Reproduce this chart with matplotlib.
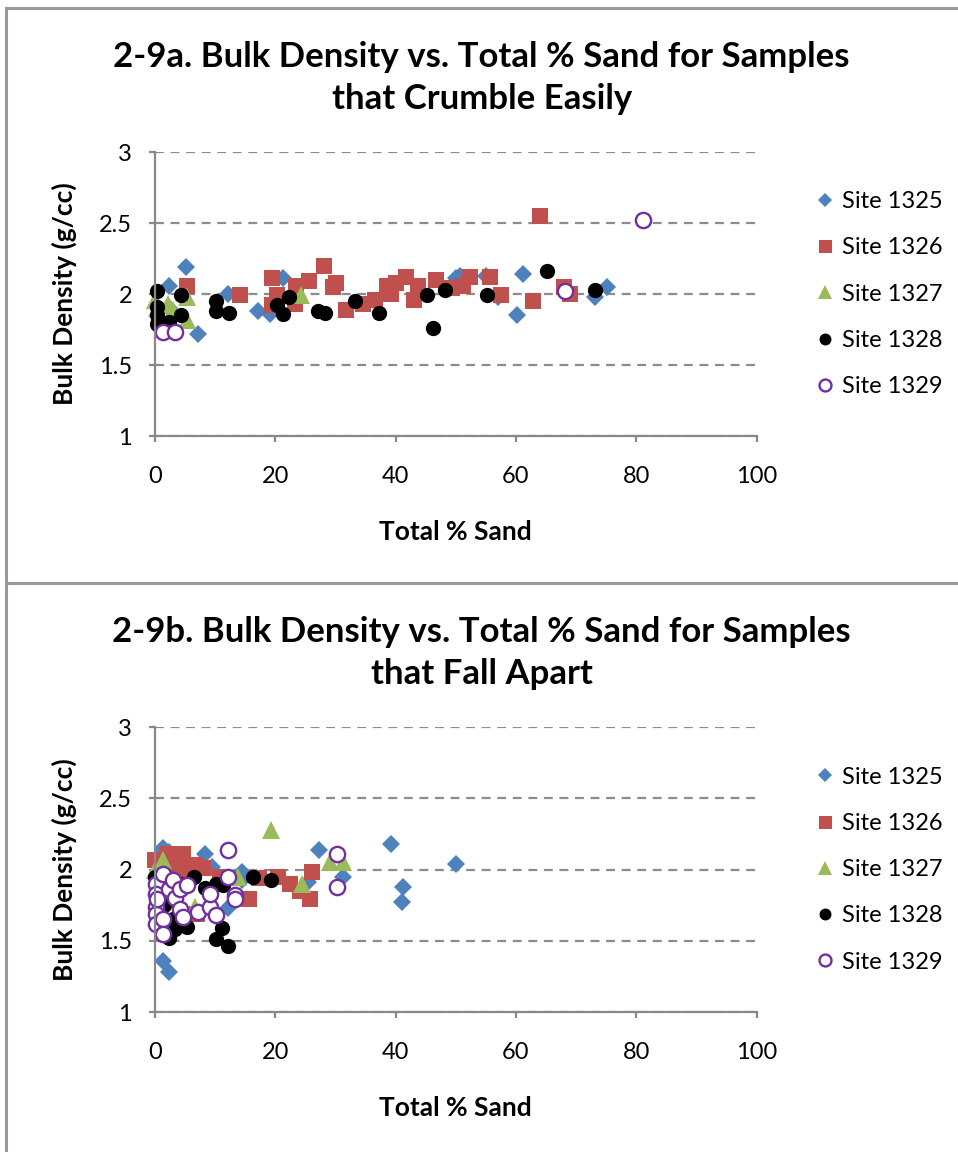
import matplotlib
matplotlib.use("Agg")
import matplotlib.pyplot as plt
from matplotlib.lines import Line2D

plt.rcParams['font.family'] = ['Lato', 'DejaVu Sans']

# 2-9a: samples that crumble easily
a_1325_x = [2.3, 2.4, 5.2, 7.2, 12.2, 17.2, 19.1, 21.3, 23.5, 50.1, 50.7, 55.1, 57.0, 60.2, 61.1, 73.1, 75.2]
a_1325_y = [2.06, 1.90, 2.19, 1.72, 2.00, 1.88, 1.86, 2.11, 1.96, 2.11, 2.13, 2.13, 1.98, 1.85, 2.14, 1.98, 2.05]
a_1326_x = [5.3, 14.1, 19.4, 19.4, 20.2, 23.3, 23.5, 25.6, 28.1, 29.6, 30.1, 31.8, 34.6, 36.5, 38.5,
            39.3, 40.1, 41.8, 43.0, 43.7, 46.7, 49.3, 51.2, 52.4, 55.7, 57.5, 62.8, 64.0, 68.0, 68.9]
a_1326_y = [2.06, 1.99, 2.11, 1.92, 1.99, 1.93, 2.06, 2.09, 2.20, 2.05, 2.08, 1.89, 1.93, 1.96, 2.06,
            2.00, 2.08, 2.12, 1.96, 2.06, 2.10, 2.04, 2.06, 2.12, 2.12, 1.99, 1.95, 2.55, 2.05, 2.00]
a_1327_x = [0.0, 0.3, 2.2, 3.0, 5.3, 5.3, 24.3]
a_1327_y = [1.96, 1.90, 1.93, 1.89, 1.98, 1.82, 1.99]
a_1328_x = [0.3, 0.3, 0.3, 0.3, 2.3, 4.3, 4.3, 10.2, 10.2, 12.3, 20.2, 21.2, 22.3, 27.1, 28.2,
            33.2, 37.2, 45.2, 46.2, 48.2, 55.2, 65.2, 73.1]
a_1328_y = [2.02, 1.91, 1.85, 1.79, 1.80, 1.99, 1.85, 1.95, 1.88, 1.87, 1.92, 1.86, 1.98, 1.88, 1.87,
            1.95, 1.87, 1.99, 1.76, 2.03, 1.99, 2.16, 2.03]
a_1329_x = [1.3, 3.3, 68.1, 81.1]
a_1329_y = [1.73, 1.73, 2.02, 2.52]

# 2-9b: samples that fall apart
b_1325_x = [0.5, 1.3, 2.3, 1.3, 2.3, 8.3, 9.4, 12.2, 14.4, 14.4, 25.5, 27.3, 31.2, 39.2, 41.2, 41.1, 50.1]
b_1325_y = [2.08, 2.15, 2.12, 1.36, 1.28, 2.11, 2.02, 1.73, 1.98, 1.93, 1.91, 2.14, 1.95, 2.18, 1.88, 1.77, 2.04]
b_1326_x = [0.0, 1.0, 2.2, 3.0, 4.7, 4.7, 5.5, 6.6, 8.0, 10.8, 6.9, 15.6, 17.3, 20.5, 22.5, 24.1, 25.7, 26.1]
b_1326_y = [2.07, 2.02, 2.11, 2.04, 2.11, 2.00, 2.03, 2.03, 2.01, 1.95, 1.69, 1.79, 1.94, 1.95, 1.90, 1.85, 1.79, 1.98]
b_1327_x = [0.0, 1.4, 6.6, 13.8, 19.3, 24.4, 29.1, 31.3]
b_1327_y = [2.00, 2.07, 1.74, 1.95, 2.28, 1.90, 2.05, 2.05]
b_1328_x = [0.0, 0.5, 2.4, 3.3, 4.2, 5.3, 6.4, 8.3, 10.2, 10.2, 11.3, 11.2, 12.2, 16.3, 19.3, 1.5, 3.0]
b_1328_y = [1.95, 1.85, 1.52, 1.58, 1.90, 1.60, 1.95, 1.87, 1.90, 1.51, 1.89, 1.59, 1.46, 1.95, 1.93, 1.75, 1.65]
b_1329_x = [0.2, 0.2, 0.2, 0.2, 0.2, 0.3, 1.3, 1.3, 1.3, 2.3, 3.0, 3.3, 4.2, 4.2, 4.7, 5.3, 7.2,
            9.1, 9.2, 10.2, 12.2, 12.2, 13.3, 13.3, 30.2, 30.2]
b_1329_y = [1.90, 1.83, 1.74, 1.69, 1.62, 1.79, 1.97, 1.65, 1.55, 1.86, 1.93, 1.80, 1.72, 1.86, 1.67,
            1.89, 1.70, 1.74, 1.83, 1.68, 2.14, 1.95, 1.82, 1.79, 2.11, 1.88]

sites = ['Site 1325', 'Site 1326', 'Site 1327', 'Site 1328', 'Site 1329']
styles = [dict(marker='D', color='#4F81BD', ms=9.5),
          dict(marker='s', color='#C0504D', ms=12),
          dict(marker='^', color='#9BBB59', ms=13),
          dict(marker='o', color='black', ms=11),
          dict(marker='o', color='#7030A0', ms=11, mfc='white', mew=1.7)]


def draw_panel(ax, title, xs, ys):
    for name, st, x, y in zip(sites, styles, xs, ys):
        st = dict(st)
        mfc = st.pop('mfc', st['color'])
        mew = st.pop('mew', 0)
        ax.plot(x, y, ls='none', marker=st['marker'], ms=st['ms'], mfc=mfc,
                mec=st['color'], mew=mew, label=name, clip_on=False)
    ax.set_xlim(0, 100)
    ax.set_ylim(1, 3)
    ax.set_xticks([0, 20, 40, 60, 80, 100])
    ax.set_yticks([1, 1.5, 2, 2.5, 3])
    ax.set_yticklabels(['1', '1.5', '2', '2.5', '3'])
    ax.yaxis.grid(True, ls=(0, (4, 3)), color='#8c8c8c', lw=1.6)
    ax.set_axisbelow(True)
    for s in ['top', 'right']:
        ax.spines[s].set_visible(False)
    for s in ['left', 'bottom']:
        ax.spines[s].set_color('#888888')
        ax.spines[s].set_linewidth(1.6)
    ax.tick_params(colors='#888888', width=1.6, length=4.5, labelsize=17, labelcolor='black')
    ax.tick_params(axis='x', pad=17)
    ax.tick_params(axis='y', pad=12)
    ax.set_xlabel('Total % Sand', fontsize=19, fontweight='bold', labelpad=24)
    ax.set_ylabel('Bulk Density (g/cc)', fontsize=19, fontweight='bold', labelpad=16)
    ax.set_title(title, fontsize=25, fontweight='bold', pad=31, linespacing=1.38, x=0.543)
    ax.legend(loc='center left', bbox_to_anchor=(1.10, 0.5), frameon=False, fontsize=17,
              handlelength=0.7, handletextpad=0.35, labelspacing=1.07, borderaxespad=0,
              borderpad=0, markerscale=0.78)


fig = plt.figure(figsize=(9.58, 11.52), dpi=100)
ax1 = fig.add_axes([0.1618, 0.6215, 0.628, 0.2465])
ax2 = fig.add_axes([0.1618, 0.1215, 0.628, 0.2474])

draw_panel(ax1, '2-9a. Bulk Density vs. Total % Sand for Samples\nthat Crumble Easily',
           [a_1325_x, a_1326_x, a_1327_x, a_1328_x, a_1329_x],
           [a_1325_y, a_1326_y, a_1327_y, a_1328_y, a_1329_y])
draw_panel(ax2, '2-9b. Bulk Density vs. Total % Sand for Samples\nthat Fall Apart',
           [b_1325_x, b_1326_x, b_1327_x, b_1328_x, b_1329_x],
           [b_1325_y, b_1326_y, b_1327_y, b_1328_y, b_1329_y])

# chart frames
W, H = 958, 1152
for xd, yd in [([6 / W, 6 / W], [0, 1 - 8 / H]),
               ([6 / W, 1], [1 - 8 / H, 1 - 8 / H]),
               ([6 / W, 1], [1 - 583 / H, 1 - 583 / H])]:
    fig.add_artist(Line2D(xd, yd, color='#999999', lw=2.2, transform=fig.transFigure))

fig.savefig('out.png', dpi=100, facecolor='white')
